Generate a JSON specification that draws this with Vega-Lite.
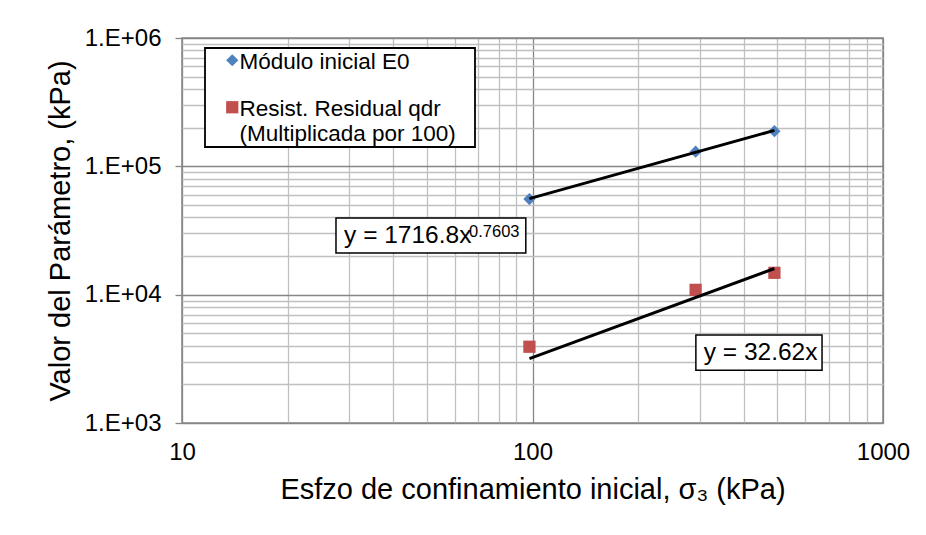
{
  "$schema": "https://vega.github.io/schema/vega-lite/v6.json",
  "width": 701,
  "height": 385,
  "autosize": {"type": "none"},
  "padding": {"left": 182, "top": 38, "right": 43, "bottom": 112},
  "background": "white",
  "config": {
    "font": "Liberation Sans",
    "view": {"stroke": "#868686", "strokeWidth": 1.5}
  },
  "datasets": {
    "pts": [
      {"serie": "Módulo inicial E0", "sigma3": 98, "valor": 55600},
      {"serie": "Módulo inicial E0", "sigma3": 292, "valor": 130000},
      {"serie": "Módulo inicial E0", "sigma3": 490, "valor": 188000},
      {"serie": "Resist. Residual qdr", "sigma3": 98, "valor": 3930},
      {"serie": "Resist. Residual qdr", "sigma3": 292, "valor": 10900},
      {"serie": "Resist. Residual qdr", "sigma3": 490, "valor": 14800}
    ],
    "trend": [
      {"serie": "E0", "sigma3": 98, "valor": 56000},
      {"serie": "E0", "sigma3": 490, "valor": 190500},
      {"serie": "qdr", "sigma3": 98, "valor": 3170},
      {"serie": "qdr", "sigma3": 490, "valor": 16000}
    ],
    "boxes": [
      {"x1": 27.5, "x2": 95.7, "y1": 21100, "y2": 39500},
      {"x1": 292.5, "x2": 670, "y1": 2580, "y2": 4840}
    ],
    "eqs": [
      {"txt": "y = 1716.8x", "sigma3": 29.0, "valor": 28650},
      {"txt": "y = 32.62x", "sigma3": 308, "valor": 3510}
    ],
    "sup": [
      {"txt": "0.7603", "sigma3": 65.9, "valor": 31000}
    ]
  },
  "layer": [
    {
      "data": {"name": "pts"},
      "mark": {"type": "point", "filled": true, "opacity": 1, "size": 150},
      "encoding": {
        "x": {
          "field": "sigma3", "type": "quantitative",
          "scale": {"type": "log", "domain": [10, 1000], "nice": false},
          "axis": {
            "values": [10, 20, 30, 40, 50, 60, 70, 80, 90, 100, 200, 300, 400, 500, 600, 700, 800, 900, 1000],
            "labelExpr": "datum.value == 10 ? '10' : datum.value == 100 ? '100' : datum.value == 1000 ? '1000' : ''",
            "labelOverlap": false,
            "labelFlush": false,
            "labelFontSize": 24,
            "labelColor": "black",
            "labelPadding": 17,
            "ticks": false,
            "domain": false,
            "grid": true,
            "gridColor": {"condition": {"test": "datum.value == 10 || datum.value == 100 || datum.value == 1000", "value": "#868686"}, "value": "#c0c0c0"},
            "gridWidth": 1.3,
            "gridOpacity": 1,
            "title": "Esfzo de confinamiento inicial, σ₃ (kPa)",
            "titleFontSize": 29,
            "titleFontWeight": "normal",
            "titleColor": "black",
            "titlePadding": 11
          }
        },
        "y": {
          "field": "valor", "type": "quantitative",
          "scale": {"type": "log", "domain": [1000, 1000000], "nice": false},
          "axis": {
            "values": [1000, 2000, 3000, 4000, 5000, 6000, 7000, 8000, 9000, 10000, 20000, 30000, 40000, 50000, 60000, 70000, 80000, 90000, 100000, 200000, 300000, 400000, 500000, 600000, 700000, 800000, 900000, 1000000],
            "labelExpr": "datum.value == 1000 ? '1.E+03' : datum.value == 10000 ? '1.E+04' : datum.value == 100000 ? '1.E+05' : datum.value == 1000000 ? '1.E+06' : ''",
            "labelOverlap": false,
            "labelFlush": false,
            "labelFontSize": 24,
            "labelColor": "black",
            "labelPadding": 14,
            "tickSize": 7,
            "tickWidth": 1.3,
            "tickColor": {"condition": {"test": "datum.value == 1000 || datum.value == 10000 || datum.value == 100000 || datum.value == 1000000", "value": "#868686"}, "value": "rgba(0,0,0,0)"},
            "domain": false,
            "grid": true,
            "gridColor": {"condition": {"test": "datum.value == 1000 || datum.value == 10000 || datum.value == 100000 || datum.value == 1000000", "value": "#868686"}, "value": "#c0c0c0"},
            "gridWidth": 1.3,
            "gridOpacity": 1,
            "title": "Valor del Parámetro, (kPa)",
            "titleFontSize": 29,
            "titleFontWeight": "normal",
            "titleColor": "black",
            "titlePadding": 9
          }
        },
        "color": {
          "field": "serie", "type": "nominal",
          "scale": {"domain": ["Módulo inicial E0", "Resist. Residual qdr"], "range": ["#4F81BD", "#C0504D"]},
          "legend": {
            "orient": "none",
            "legendX": 23,
            "legendY": 10,
            "title": "MM",
            "titleOrient": "right",
            "titleColor": "rgba(0,0,0,0)",
            "titleFontSize": 9,
            "titlePadding": 3,
            "labelFontSize": 22.5,
            "labelColor": "black",
            "labelLimit": 400,
            "labelExpr": "datum.value == 'Resist. Residual qdr' ? ['Resist. Residual qdr', '(Multiplicada por 100)'] : datum.label",
            "labelBaseline": "top",
            "labelOffset": -4,
            "strokeColor": "black",
            "fillColor": "white",
            "padding": 1,
            "symbolOffset": 15,
            "symbolSize": 150,
            "symbolOpacity": 1,
            "rowPadding": 22,
            "offset": 0,
            "encode": {
              "labels": {"update": {"dy": {"value": -9}, "lineHeight": {"value": 25}}},
              "legend": {"update": {"strokeWidth": {"value": 1.8}}}
            }
          }
        },
        "shape": {
          "field": "serie", "type": "nominal",
          "scale": {"domain": ["Módulo inicial E0", "Resist. Residual qdr"], "range": ["diamond", "square"]},
          "legend": null
        }
      }
    },
    {
      "data": {"name": "trend"},
      "mark": {"type": "line", "color": "black", "strokeWidth": 3},
      "encoding": {
        "x": {"field": "sigma3", "type": "quantitative"},
        "y": {"field": "valor", "type": "quantitative"},
        "detail": {"field": "serie", "type": "nominal"}
      }
    },
    {
      "data": {"name": "boxes"},
      "mark": {"type": "rect", "fill": "white", "stroke": "black", "strokeWidth": 1.5},
      "encoding": {
        "x": {"field": "x1", "type": "quantitative"},
        "x2": {"field": "x2"},
        "y": {"field": "y1", "type": "quantitative"},
        "y2": {"field": "y2"}
      }
    },
    {
      "data": {"name": "eqs"},
      "mark": {"type": "text", "align": "left", "baseline": "middle", "fontSize": 24.5, "color": "black"},
      "encoding": {
        "x": {"field": "sigma3", "type": "quantitative"},
        "y": {"field": "valor", "type": "quantitative"},
        "text": {"field": "txt"}
      }
    },
    {
      "data": {"name": "sup"},
      "mark": {"type": "text", "align": "left", "baseline": "middle", "fontSize": 16.5, "color": "black"},
      "encoding": {
        "x": {"field": "sigma3", "type": "quantitative"},
        "y": {"field": "valor", "type": "quantitative"},
        "text": {"field": "txt"}
      }
    }
  ]
}
